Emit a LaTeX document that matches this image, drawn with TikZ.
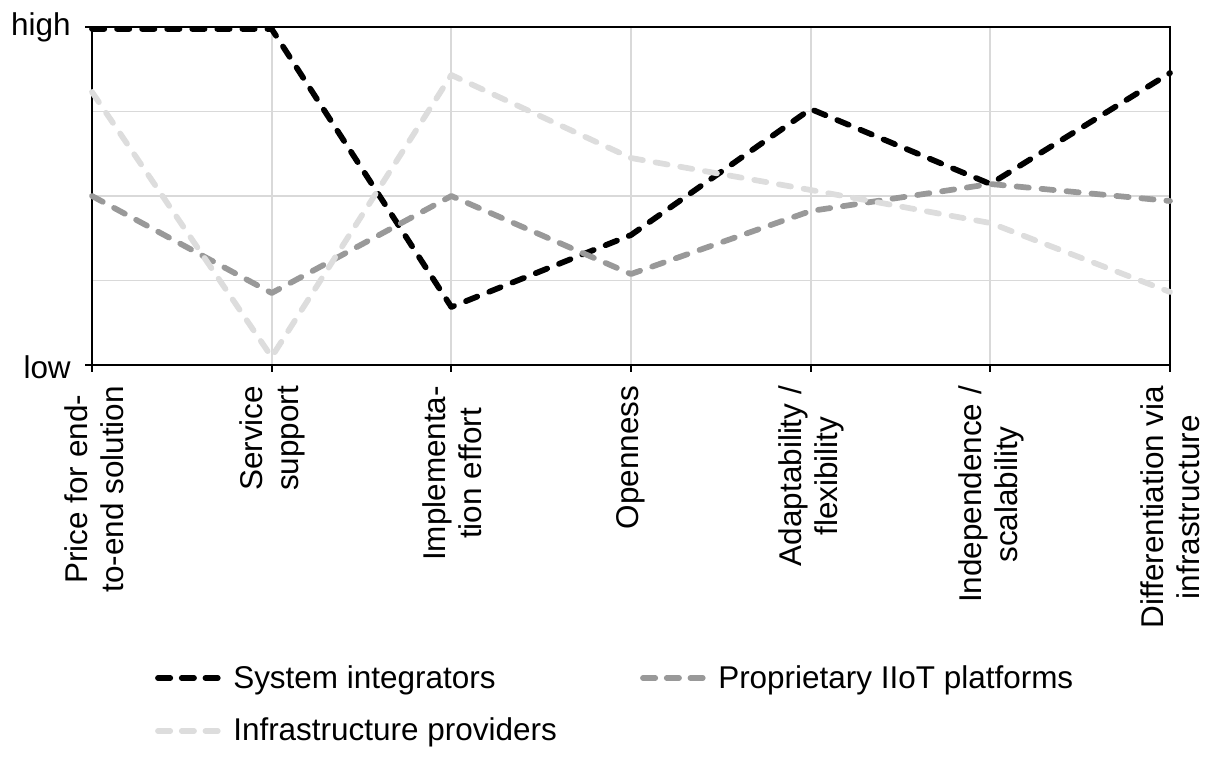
\documentclass[tikz,border=0pt]{standalone}
\usepackage{fontspec}
\setmainfont{Liberation Sans}
\begin{document}
\begin{tikzpicture}[x=0.75pt,y=-0.75pt,
  grid/.style={draw=gridgray,line width=1.4pt},
  frame/.style={draw=black,line width=1.7pt},
  series/.style={line width=4.3pt,line cap=round,line join=round,dash pattern=on 9.2pt off 9.6pt},
  sysint/.style={series,draw=black},
  propr/.style={series,draw=propgray},
  infra/.style={series,draw=infragray},
  legdash/.style={dash pattern=on 9.2pt off 8.6pt},
  lab/.style={rotate=90,anchor=east,align=center,inner sep=0pt,outer sep=0pt,font=\fontsize{23.6pt}{27pt}\selectfont},
  ylab/.style={anchor=base east,inner sep=0pt,font=\fontsize{23.6pt}{27pt}\selectfont},
  leg/.style={anchor=base west,inner sep=0pt,font=\fontsize{23.6pt}{27pt}\selectfont}
]
\definecolor{gridgray}{HTML}{D9D9D9}
\definecolor{propgray}{HTML}{999999}
\definecolor{infragray}{HTML}{DDDDDD}
\useasboundingbox (0,0) rectangle (1209,764);
% grid
\foreach \yy in {111.5,196,280.5} \draw[grid] (92,\yy) -- (1170,\yy);
\foreach \xx in {271.67,451.33,631,810.67,990.33} \draw[grid] (\xx,27) -- (\xx,365);
% frame
\draw[frame] (92,27) rectangle (1170,365);
\foreach \xx in {92,271.67,451.33,631,810.67,990.33,1170} \draw[frame] (\xx,365) -- (\xx,372);
\draw[frame] (85,27) -- (92,27);
\draw[frame] (85,365) -- (92,365);
% coordinates
\coordinate (s1) at (92,29);     \coordinate (s2) at (271.67,29);
\coordinate (s3) at (451.33,307); \coordinate (s4) at (631,235);
\coordinate (s5) at (810.67,109); \coordinate (s6) at (990.33,184);
\coordinate (s7) at (1170,73);
\coordinate (p1) at (92,196);     \coordinate (p2) at (271.67,293);
\coordinate (p3) at (451.33,196); \coordinate (p4) at (631,274);
\coordinate (p5) at (810.67,211); \coordinate (p6) at (990.33,184);
\coordinate (p7) at (1170,201);
\coordinate (i1) at (92,92);      \coordinate (i2) at (271.67,357);
\coordinate (i3) at (451.33,75);  \coordinate (i4) at (631,158);
\coordinate (i5) at (810.67,190); \coordinate (i6) at (990.33,223);
\coordinate (i7) at (1170,292);
% series
\draw[sysint] (s1) -- (s2) -- (s3) -- (s4) -- (s5) -- (s6) -- (s7);
\draw[propr] (p1) -- (p2) -- (p3) -- (p4) -- (p5) -- (p6) -- (p7);
\draw[infra] (i1) -- (i2) -- (i3) -- (i4) -- (i5) -- (i6) -- (i7);
% y labels
\node[ylab] (hi) at (71,35) {high};
\node[ylab] (lo) at (71,378) {low};
% category labels
\node[lab] (c1) at (94,386) {Price for end-\\to-end solution};
\node[lab] (c2) at (272,386) {Service\\support};
\node[lab] (c3) at (452,386) {Implementa-\\tion effort};
\node[lab] (c4) at (631,386) {Openness};
\node[lab] (c5) at (811,386) {Adaptability /\\flexibility};
\node[lab] (c6) at (991,386) {Independence /\\scalability};
\node[lab] (c7) at (1170,386) {Differentiation via\\infrastructure};
% legend
\coordinate (la1) at (158,678); \coordinate (lb1) at (218,678);
\coordinate (la2) at (643,678); \coordinate (lb2) at (703,678);
\coordinate (la3) at (158,731); \coordinate (lb3) at (218,731);
\draw[sysint,legdash] (la1) -- (lb1);
\draw[propr,legdash] (la2) -- (lb2);
\draw[infra,legdash] (la3) -- (lb3);
\node[leg] (t1) at (233,688) {System integrators};
\node[leg] (t2) at (718,688) {Proprietary IIoT platforms};
\node[leg] (t3) at (233,740) {Infrastructure providers};
\end{tikzpicture}
\end{document}
